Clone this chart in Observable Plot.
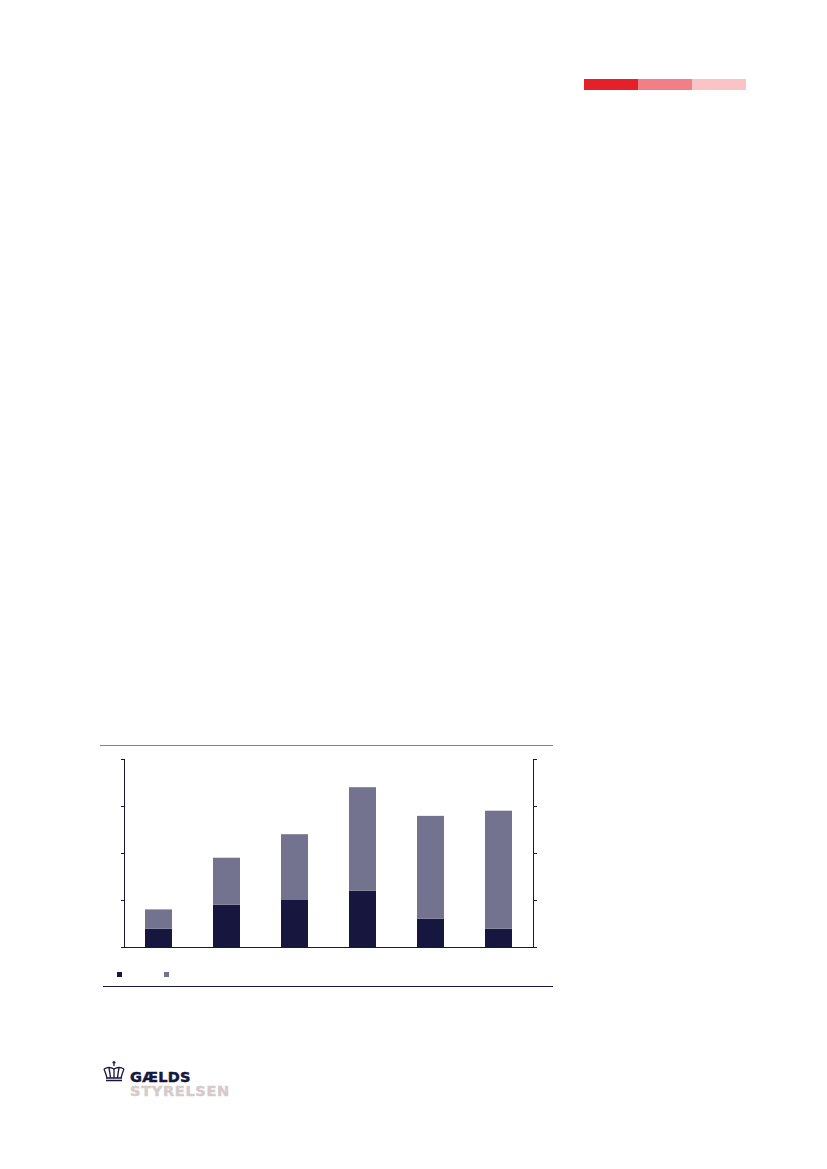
<!DOCTYPE html>
<html>
<head>
<meta charset="utf-8">
<script src="https://cdn.jsdelivr.net/npm/d3@7"></script>
<script src="https://cdn.jsdelivr.net/npm/@observablehq/plot@0.6"></script>
<style>
  html, body { margin: 0; padding: 0; background: #fff; }
  body { width: 827px; height: 1169px; position: relative; overflow: hidden; font-family: "DejaVu Sans", sans-serif; }
  .abs { position: absolute; }
  #chart { position: absolute; left: 100px; top: 746px; }
  #chart svg { display: block; }
</style>
</head>
<body>
<!-- red stripe -->
<div class="abs" style="left:584px;top:79px;width:54px;height:11px;background:#e42029"></div>
<div class="abs" style="left:638px;top:79px;width:54px;height:11px;background:#f07f86"></div>
<div class="abs" style="left:692px;top:79px;width:54px;height:11px;background:#fac4c7"></div>

<!-- chart frame rules -->
<div class="abs" style="left:100px;top:745px;width:453px;height:1px;background:#858585"></div>
<div class="abs" style="left:103px;top:986px;width:450px;height:1.3px;background:#16163f"></div>

<div id="chart"></div>

<!-- legend swatches -->
<div class="abs" style="left:117px;top:972px;width:5px;height:5px;background:#16163f"></div>
<div class="abs" style="left:164px;top:972px;width:5px;height:5px;background:#737390"></div>

<!-- logo -->
<svg class="abs" style="left:102px;top:1060px" width="24" height="22" viewBox="0 0 24 22">
  <g fill="none" stroke="#16163f" stroke-width="1.3">
    <path d="M12 1 v5 M10.5 2.5 h3"/>
    <path d="M2 9 Q4 14 5 18 M22 9 Q20 14 19 18"/>
    <path d="M2 9 Q7 6 12 9 Q17 6 22 9"/>
    <path d="M7 8 Q8 13 8.5 18 M17 8 Q16 13 15.5 18 M12 9 V18"/>
    <path d="M4 18 H20 M4 20.5 H20"/>
  </g>
</svg>
<div class="abs" style="left:130px;top:1069px;font:900 14.5px 'DejaVu Sans', sans-serif;color:#16163f;letter-spacing:0.3px;-webkit-text-stroke:0.5px #16163f">GÆLDS</div>
<div class="abs" style="left:130px;top:1083px;font:900 14.5px 'DejaVu Sans', sans-serif;color:#d5cbcb;letter-spacing:0.7px;-webkit-text-stroke:0.5px #d5cbcb">STYRELSEN</div>

<script>
const categories = ["1", "2", "3", "4", "5", "6"];
const seriesNames = ["Serie 1", "Serie 2"];
const series1 = [0.39, 0.90, 1.00, 1.20, 0.60, 0.39];
const series2 = [0.41, 1.00, 1.40, 2.20, 2.19, 2.51];
const yTicks = [0, 1, 2, 3, 4];
const colors = ["#16163f", "#737390"];

const rows = [];
categories.forEach((c, i) => {
  rows.push({cat: c, series: seriesNames[0], value: series1[i]});
  rows.push({cat: c, series: seriesNames[1], value: series2[i]});
});

const navy = "#16163f";
const chart = Plot.plot({
  width: 453,
  height: 204,
  marginLeft: 24,
  marginRight: 20,
  marginTop: 13,
  marginBottom: 3,
  x: {domain: categories, paddingInner: 0.6, paddingOuter: 0.3, axis: null},
  y: {domain: [0, 4], axis: null},
  color: {domain: seriesNames, range: colors},
  marks: [
    Plot.barY(rows, {x: "cat", y: "value", fill: "series", order: seriesNames}),
    Plot.axisY({anchor: "left", ticks: yTicks, tickSize: 3, tickFormat: () => "", label: null, stroke: navy, strokeOpacity: 1}),
    Plot.axisY({anchor: "right", ticks: yTicks, tickSize: 3, tickFormat: () => "", label: null, stroke: navy, strokeOpacity: 1}),
    Plot.frame({anchor: "left", stroke: navy}),
    Plot.frame({anchor: "right", stroke: navy}),
    Plot.ruleY([0], {stroke: navy})
  ]
});
document.getElementById("chart").appendChild(chart);
</script>
</body>
</html>
